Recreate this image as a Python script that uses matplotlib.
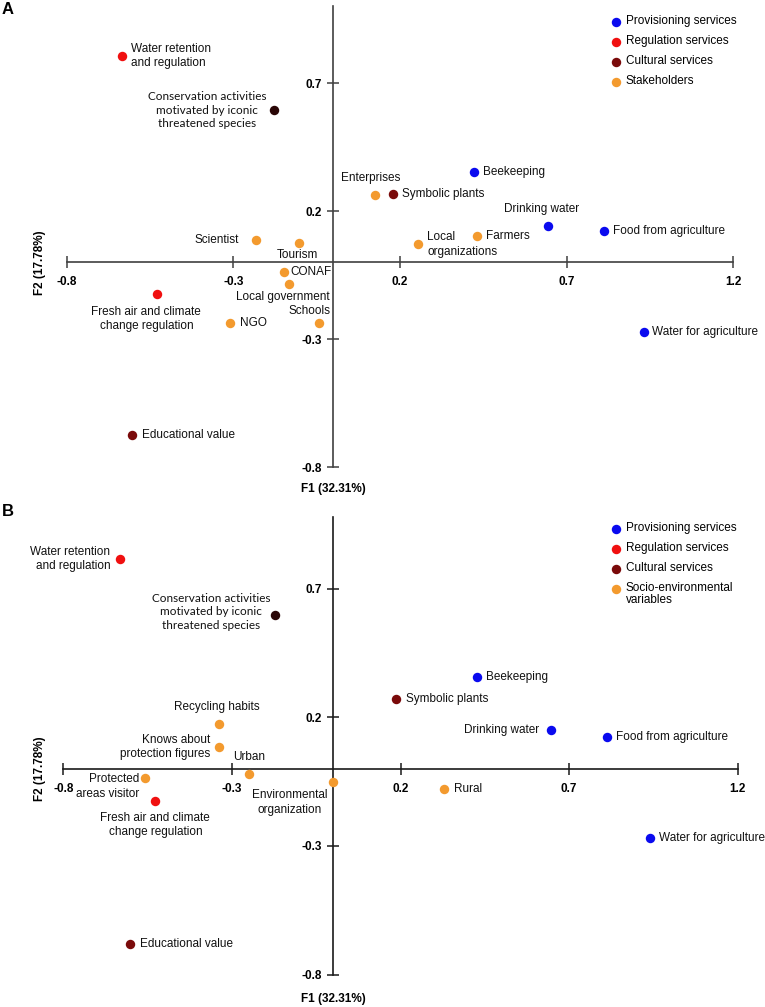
import matplotlib
matplotlib.use("Agg")
import matplotlib.pyplot as plt

plt.rcParams['font.family'] = ['Liberation Sans', 'DejaVu Sans']
plt.rcParams['axes.unicode_minus'] = False

# ---- data ----
groups_colors = {'P': '#0a0aef', 'R': '#f01010', 'C': '#7a0a0a', 'Cd': '#2a0606', 'S': '#f39a2e'}

a_names = ['Water retention\nand regulation',
           'Conservation activities\nmotivated by iconic\nthreatened species',
           'Enterprises', 'Symbolic plants', 'Beekeeping', 'Drinking water',
           'Food from agriculture', 'Local\norganizations', 'Farmers',
           'Water for agriculture', 'Scientist', 'Tourism', 'CONAF',
           'Local government', 'Schools', 'NGO',
           'Fresh air and climate\nchange regulation', 'Educational value']
a_x = [-0.635, -0.178, 0.126, 0.178, 0.423, 0.643, 0.811, 0.255, 0.430,
       0.932, -0.232, -0.102, -0.149, -0.132, -0.042, -0.309, -0.528, -0.604]
a_y = [0.806, 0.595, 0.263, 0.265, 0.351, 0.142, 0.121, 0.070, 0.104,
       -0.272, 0.086, 0.077, -0.037, -0.083, -0.238, -0.238, -0.124, -0.676]
a_grp = ['R', 'Cd', 'S', 'C', 'P', 'P', 'P', 'S', 'S', 'P', 'S', 'S', 'S',
         'S', 'S', 'S', 'R', 'C']

b_names = ['Water retention\nand regulation',
           'Conservation activities\nmotivated by iconic\nthreatened species',
           'Recycling habits', 'Knows about\nprotection figures', 'Urban',
           'Environmental\norganization', 'Protected\nareas visitor',
           'Fresh air and climate\nchange regulation', 'Educational value',
           'Beekeeping', 'Symbolic plants', 'Drinking water',
           'Food from agriculture', 'Rural', 'Water for agriculture']
b_x = [-0.631, -0.172, -0.339, -0.338, -0.249, 0.000, -0.557, -0.527, -0.601,
       0.427, 0.187, 0.647, 0.812, 0.330, 0.940]
b_y = [0.815, 0.598, 0.173, 0.085, -0.020, -0.053, -0.037, -0.125, -0.681,
       0.357, 0.270, 0.151, 0.124, -0.077, -0.270]
b_grp = ['R', 'Cd', 'S', 'S', 'S', 'S', 'S', 'R', 'C', 'P', 'C', 'P', 'P', 'S', 'P']

a_legend = ['Provisioning services', 'Regulation services', 'Cultural services', 'Stakeholders']
b_legend = ['Provisioning services', 'Regulation services', 'Cultural services',
            'Socio-environmental\nvariables']
legend_grp = ['P', 'R', 'C', 'S']

xticks = [-0.8, -0.3, 0.2, 0.7, 1.2]
xticklabels = ['-0.8', '-0.3', '0.2', '0.7', '1.2']
yticks = [-0.8, -0.3, 0.2, 0.7]
yticklabels = ['-0.8', '-0.3', '0.2', '0.7']

# ---- label placement: (dx px, dy px, ha, multialignment) ----
a_lab = [(9, 0, 'left', 'left'), (-8, 0, 'right', 'center'), (-5, 17, 'center', 'center'),
         (9, 0, 'left', 'left'), (9, 0, 'left', 'left'), (-6, 17, 'center', 'center'),
         (9, 0, 'left', 'left'), (9, 0, 'left', 'left'), (9, 0, 'left', 'left'),
         (8, 0, 'left', 'left'), (-17, 0, 'right', 'right'), (-2, -12, 'center', 'center'),
         (7, 0, 'left', 'left'), (-7, -13, 'center', 'center'), (-10, 12, 'center', 'center'),
         (10, 0, 'left', 'left'), (-11, -25, 'center', 'center'), (10, 0, 'left', 'left')]
b_lab = [(-10, 0, 'right', 'right'), (-5, 3, 'right', 'center'), (-2, 17, 'center', 'center'),
         (-9, 0, 'right', 'right'), (0, 17, 'center', 'center'), (-6, -20, 'right', 'center'),
         (-6, -8, 'right', 'right'), (0, -24, 'center', 'center'), (10, 0, 'left', 'left'),
         (9, 0, 'left', 'left'), (10, 0, 'left', 'left'), (-12, 0, 'right', 'right'),
         (9, 0, 'left', 'left'), (10, 0, 'left', 'left'), (9, 0, 'left', 'left')]

W, H = 765, 1007
fig = plt.figure(figsize=(W / 100, H / 100), dpi=100)


def panel(box, xlim, ylim, ytop, names, xs, ys, grp, labs, legend, leg_xy, letter, axcol):
    L, R, T, B = box
    ax = fig.add_axes([L / W, 1 - B / H, (R - L) / W, (B - T) / H])
    ax.set_xlim(xlim)
    ax.set_ylim(ylim)
    for s in ['top', 'right']:
        ax.spines[s].set_visible(False)
    ax.spines['left'].set_position(('data', 0))
    ax.spines['bottom'].set_position(('data', 0))
    ax.spines['left'].set_bounds(-0.8, ytop)
    ax.spines['bottom'].set_bounds(-0.8, 1.2)
    for s in ['left', 'bottom']:
        ax.spines[s].set_color(axcol)
        ax.spines[s].set_linewidth(1.2)
    ax.set_xticks(xticks)
    ax.set_xticklabels(xticklabels)
    ax.set_yticks(yticks)
    ax.set_yticklabels(yticklabels)
    ax.tick_params(direction='inout', length=8, width=1.1, color=axcol,
                   labelsize=8.5)
    ax.tick_params(axis='x', pad=6)
    ax.tick_params(axis='y', pad=4)
    for t in ax.get_xticklabels() + ax.get_yticklabels():
        t.set_fontweight('bold')
    ax.patch.set_visible(False)

    for n, x, y, g, (dx, dy, ha, ma) in zip(names, xs, ys, grp, labs):
        ax.plot(x, y, 'o', ms=6.8, color=groups_colors[g], mec='none', zorder=3)
        cons = n.startswith('Conservation')
        fam = ['Lato', 'DejaVu Sans'] if cons else None
        ax.annotate(n, (x, y), xytext=(dx, dy), textcoords='offset pixels',
                    ha=ha, va='center', multialignment=ma, fontsize=8.5,
                    linespacing=1.3, color='#111111', family=fam)

    ax.text(0, ylim[0] + 0.025, 'F1 (32.31%)', ha='center', va='center',
            fontsize=8.5, fontweight='bold')
    ax.text(30 / (R - L), 0, 'F2 (17.78%)', rotation=90, ha='center', va='center',
            fontsize=8.5, fontweight='bold', transform=ax.get_yaxis_transform())

    lx, ly = leg_xy
    for i, (lab, g) in enumerate(zip(legend, legend_grp)):
        yy = ly + 20 * i
        ax.plot((lx - L) / (R - L), 1 - (yy - T) / (B - T), 'o', ms=6.8,
                color=groups_colors[g], mec='none', transform=ax.transAxes)
        ax.text((lx + 10 - L) / (R - L), 1 - (yy - 7 - T) / (B - T), lab,
                ha='left', va='top', fontsize=8.5, linespacing=1.05,
                transform=ax.transAxes)
    fig.text(2 / W, 1 - (T + 7) / H, letter, fontsize=12, fontweight='bold',
             ha='left', va='center')
    return ax


panel((10, 755, 2, 495), (-0.970, 1.265), (-0.909, 1.017), 1.0,
      a_names, a_x, a_y, a_grp, a_lab, a_legend, (615.7, 21.7), 'A', '#404040')
panel((10, 755, 505, 1005), (-0.958, 1.251), (-0.918, 1.025), 0.98,
      b_names, b_x, b_y, b_grp, b_lab, b_legend, (615.7, 529), 'B', '#1a1a1a')

fig.savefig('out.png', dpi=100)
